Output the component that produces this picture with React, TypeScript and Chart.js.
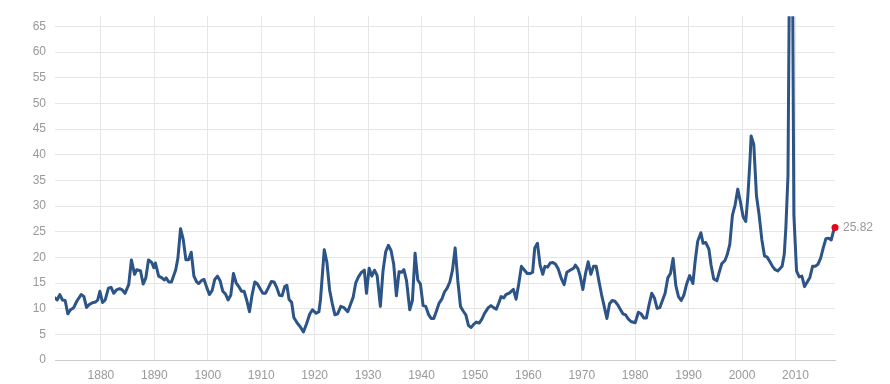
import React, { useEffect, useRef } from "react";
import { Chart, registerables } from "chart.js";

Chart.register(...registerables);

// Decimal years of each plotted point
const years = [
  1871.4, 1871.8, 1872.3, 1872.8, 1873.3, 1873.8, 1874.3, 1874.9, 1875.5, 1876.3,
  1876.8, 1877.3, 1877.8, 1878.4, 1879.0, 1879.4, 1879.8, 1880.3, 1880.8, 1881.4,
  1881.9, 1882.4, 1882.9, 1883.5, 1884.0, 1884.5, 1885.2, 1885.7, 1886.3, 1886.7,
  1887.4, 1887.9, 1888.4, 1888.9, 1889.5, 1889.9, 1890.2, 1890.8, 1891.4, 1891.9,
  1892.2, 1892.7, 1893.2, 1894.0, 1894.4, 1894.9, 1895.4, 1895.9, 1896.4, 1896.9,
  1897.4, 1897.9, 1898.3, 1898.8, 1899.3, 1899.8, 1900.3, 1900.8, 1901.3, 1901.8,
  1902.3, 1902.8, 1903.3, 1903.8, 1904.3, 1904.8, 1905.3, 1905.8, 1906.3, 1906.8,
  1907.3, 1907.8, 1908.3, 1908.8, 1909.3, 1909.8, 1910.3, 1910.8, 1911.3, 1911.9,
  1912.4, 1912.9, 1913.4, 1913.9, 1914.4, 1914.8, 1915.2, 1915.7, 1916.1, 1916.8,
  1917.3, 1917.9, 1918.5, 1919.1, 1919.6, 1920.3, 1920.8, 1921.1, 1921.8, 1922.3,
  1922.8, 1923.3, 1923.8, 1924.3, 1924.9, 1925.5, 1926.2, 1926.7, 1927.2, 1927.7,
  1928.2, 1928.7, 1929.3, 1929.7, 1930.2, 1930.7, 1931.2, 1931.7, 1932.3, 1932.8,
  1933.3, 1933.8, 1934.3, 1934.8, 1935.3, 1935.8, 1936.3, 1936.7, 1937.2, 1937.8,
  1938.3, 1938.8, 1939.3, 1939.8, 1940.3, 1940.8, 1941.3, 1941.8, 1942.3, 1942.8,
  1943.3, 1943.8, 1944.3, 1944.8, 1945.3, 1945.8, 1946.3, 1946.8, 1947.3, 1947.8,
  1948.3, 1948.8, 1949.3, 1949.8, 1950.3, 1950.8, 1951.3, 1951.8, 1952.5, 1953.0,
  1953.5, 1954.0, 1954.5, 1954.9, 1955.4, 1955.8, 1956.5, 1957.2, 1957.7, 1958.2,
  1958.7, 1959.2, 1959.8, 1960.3, 1960.8, 1961.2, 1961.7, 1962.2, 1962.7, 1963.1,
  1963.6, 1964.1, 1964.6, 1965.1, 1965.6, 1966.2, 1966.7, 1967.2, 1967.8, 1968.5,
  1968.8, 1969.3, 1969.7, 1970.2, 1970.7, 1971.2, 1971.7, 1972.2, 1972.7, 1973.2,
  1973.7, 1974.2, 1974.7, 1975.2, 1975.7, 1976.2, 1976.7, 1977.2, 1977.7, 1978.2,
  1978.7, 1979.2, 1980.0, 1980.6, 1981.1, 1981.6, 1982.1, 1982.6, 1983.1, 1983.6,
  1984.1, 1984.6, 1985.1, 1985.6, 1986.1, 1986.6, 1987.1, 1987.6, 1988.1, 1988.6,
  1989.1, 1989.6, 1990.2, 1990.8, 1991.2, 1991.7, 1992.3, 1992.7, 1993.2, 1993.8,
  1994.2, 1994.7, 1995.3, 1995.7, 1996.2, 1996.8, 1997.2, 1997.7, 1998.2, 1998.7,
  1999.2, 1999.7, 2000.2, 2000.7, 2001.1, 2001.5, 2001.7, 2002.2, 2002.7, 2003.2,
  2003.7, 2004.2, 2004.7, 2005.2, 2005.7, 2006.2, 2006.7, 2007.5, 2007.9, 2008.2,
  2008.6, 2009.2, 2009.7, 2010.2, 2010.7, 2011.2, 2011.7, 2012.2, 2012.7, 2013.2,
  2013.7, 2014.2, 2014.7, 2015.2, 2015.7, 2016.2, 2016.7, 2017.1, 2017.4,
];

// S&P 500 PE ratio values
const peRatio = [
  12.1, 11.7, 12.75, 11.7, 11.6, 9.0, 9.8, 10.2, 11.5, 12.75,
  12.4, 10.25, 10.8, 11.15, 11.3, 11.7, 13.4, 11.2, 11.7, 14.0,
  14.15, 13.0, 13.65, 13.9, 13.65, 13.0, 14.7, 19.5, 16.7, 17.6,
  17.4, 14.8, 16.0, 19.5, 19.0, 18.0, 18.9, 16.35, 16.0, 15.6,
  16.0, 15.2, 15.2, 17.6, 19.8, 25.6, 23.5, 19.55, 19.55, 21.0,
  16.35, 15.25, 14.9, 15.45, 15.7, 14.15, 12.75, 13.5, 15.7, 16.35,
  15.45, 13.4, 12.9, 11.7, 12.6, 16.85, 15.05, 14.3, 13.4, 13.4,
  11.6, 9.4, 12.75, 15.2, 14.8, 13.9, 13.0, 13.0, 14.0, 15.3,
  15.2, 14.15, 12.6, 12.5, 14.3, 14.55, 11.85, 11.2, 8.3, 7.1,
  6.5, 5.45, 7.1, 9.0, 9.8, 9.1, 9.4, 11.85, 21.5, 19.0,
  13.65, 11.0, 8.8, 9.0, 10.45, 10.2, 9.4, 10.8, 12.2, 15.05,
  16.2, 17.0, 17.5, 13.0, 17.9, 16.35, 17.5, 16.45, 10.45, 17.4,
  21.1, 22.35, 21.35, 18.65, 12.5, 17.2, 17.1, 17.6, 15.45, 9.8,
  11.6, 20.8, 15.6, 14.8, 10.6, 10.45, 8.9, 8.1, 8.1, 9.55,
  11.1, 11.85, 13.25, 14.0, 15.2, 17.5, 21.85, 15.45, 10.45, 9.55,
  8.8, 6.7, 6.35, 7.0, 7.4, 7.2, 7.95, 9.1, 10.2, 10.6,
  10.2, 9.9, 11.2, 12.35, 12.1, 12.75, 13.1, 13.75, 11.85, 14.8,
  18.25, 17.6, 16.85, 16.85, 17.1, 21.85, 22.75, 18.5, 16.7, 18.25,
  18.1, 18.9, 19.0, 18.65, 17.75, 15.8, 14.7, 17.1, 17.5, 17.9,
  18.5, 17.75, 16.35, 13.75, 16.85, 19.15, 16.7, 18.25, 18.25, 15.45,
  12.75, 10.45, 8.1, 10.95, 11.6, 11.45, 10.8, 9.9, 9.0, 8.8,
  8.0, 7.5, 7.25, 9.3, 9.0, 8.2, 8.2, 10.8, 13.0, 12.1,
  10.05, 10.2, 11.6, 13.0, 16.0, 16.85, 19.8, 14.55, 12.35, 11.6,
  12.6, 14.7, 16.45, 14.9, 19.05, 23.15, 24.8, 22.75, 22.9, 21.6,
  18.5, 15.8, 15.45, 17.0, 18.75, 19.4, 20.45, 22.5, 28.25, 30.2,
  33.3, 30.8, 27.9, 27.0, 32.1, 39.15, 43.65, 42.0, 32.0, 28.25,
  23.5, 20.3, 20.05, 19.2, 18.25, 17.6, 17.35, 18.25, 20.6, 25.7,
  36.0, 123.7, 28.3, 17.35, 16.2, 16.35, 14.3, 15.2, 16.1, 18.25,
  18.25, 18.65, 19.8, 21.85, 23.65, 23.75, 23.4, 25.05, 25.82,
];

const xTickStep = 10;
const yTickStep = 5;
const yMin = 0;
const yMax = 67;

const FONT = '"Liberation Sans", Arial, Helvetica, sans-serif';
const LINE_COLOR = "#2c5486";
const GRID_COLOR = "#e6e6e6";
const TEXT_COLOR = "#999999";
const DOT_COLOR = "#e8001c";

export default function App() {
  const canvasRef = useRef<HTMLCanvasElement | null>(null);

  useEffect(() => {
    const canvas = canvasRef.current;
    if (!canvas) return;
    const last = peRatio.length - 1;

    const lastLabel = {
      id: "lastLabel",
      afterDatasetsDraw(chart: any) {
        const meta = chart.getDatasetMeta(0);
        const pt = meta.data[last];
        if (!pt) return;
        const ctx = chart.ctx;
        ctx.save();
        ctx.font = `12px ${FONT}`;
        ctx.fillStyle = TEXT_COLOR;
        ctx.textAlign = "left";
        ctx.textBaseline = "middle";
        ctx.fillText(peRatio[last].toFixed(2), pt.x + 8, pt.y);
        ctx.restore();
      },
    };

    const chart = new Chart(canvas, {
      type: "line",
      data: {
        datasets: [
          {
            data: years.map((x, i) => ({ x, y: peRatio[i] })),
            borderColor: LINE_COLOR,
            borderWidth: 3,
            borderJoinStyle: "round",
            borderCapStyle: "round",
            tension: 0,
            pointRadius: (c: any) => (c.dataIndex === last ? 3.5 : 0),
            pointHoverRadius: 0,
            pointBackgroundColor: DOT_COLOR,
            pointBorderWidth: 0,
            fill: false,
            clip: { left: 0, top: 0, right: 10, bottom: 0 } as any,
          },
        ],
      },
      options: {
        responsive: false,
        animation: false,
        events: [],
        layout: { padding: { left: 0, right: 55, top: 12, bottom: 0 } },
        plugins: {
          legend: { display: false },
          tooltip: { enabled: false },
          title: { display: false },
        },
        scales: {
          x: {
            type: "linear",
            min: years[0],
            max: years[years.length - 1],
            grid: { color: GRID_COLOR, drawTicks: false, lineWidth: 1 },
            border: { display: true, color: "#cccccc", width: 1 },
            ticks: {
              stepSize: xTickStep,
              includeBounds: false,
              autoSkip: false,
              maxRotation: 0,
              padding: 8,
              color: TEXT_COLOR,
              font: { family: FONT, size: 12 },
              callback: (v: any) => String(v),
            },
            afterFit: (axis: any) => {
              axis.height = 24;
            },
          },
          y: {
            type: "linear",
            min: yMin,
            max: yMax,
            grid: { color: GRID_COLOR, drawTicks: false, lineWidth: 1 },
            border: { display: false },
            ticks: {
              stepSize: yTickStep,
              includeBounds: false,
              padding: 9,
              color: TEXT_COLOR,
              font: { family: FONT, size: 12 },
              callback: (v: any) => String(v),
            },
            afterFit: (axis: any) => {
              axis.width = 55;
            },
          },
        },
      },
      plugins: [lastLabel],
    });

    return () => chart.destroy();
  }, []);

  return (
    <div style={{ position: "absolute", left: 0, top: 0, width: 890, height: 384, background: "#fff" }}>
      <canvas ref={canvasRef} width={890} height={384} style={{ display: "block" }} />
    </div>
  );
}
